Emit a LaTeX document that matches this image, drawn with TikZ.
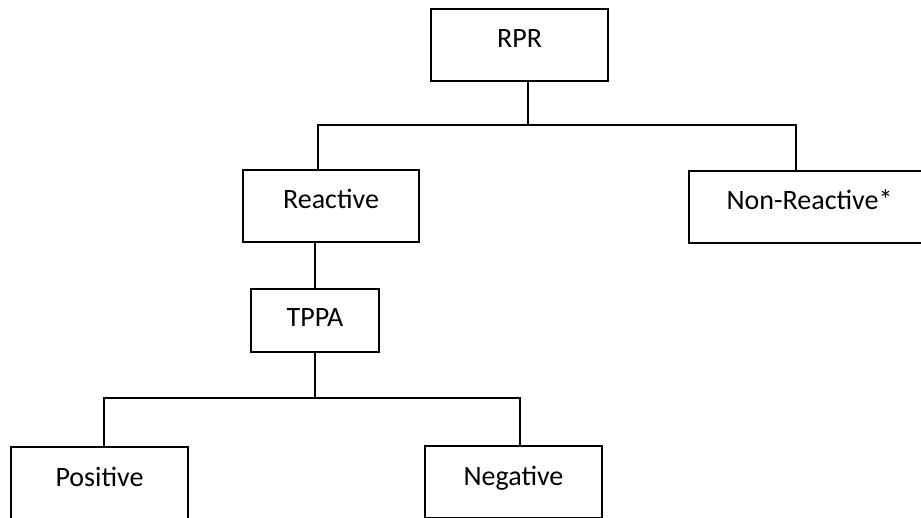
\documentclass[tikz,border=0pt]{standalone}
\usepackage{fontspec}
\setmainfont{Carlito}
\tikzset{box/.style={draw,inner sep=0pt,minimum width=177pt,text height=39pt,text depth=33pt,font=\fontsize{28}{34}\selectfont}}
\begin{document}
\begin{tikzpicture}[x=1pt,y=-1pt,line width=1.8pt]
\useasboundingbox (0,0) rectangle (921,518);
\clip (0,0) rectangle (921,518);
\node[box] (rpr) at (519.5,45) {RPR};
\node[box,minimum width=176pt] (reactive) at (331,206) {Reactive};
\node[box,minimum width=241pt] (nonreactive) at (809.5,207) {Non-Reactive*};
\node[box,minimum width=128pt,text height=38pt,text depth=25pt] (tppa) at (315,320.5) {TPPA};
\node[box] (positive) at (99.5,483) {Positive};
\node[box] (negative) at (513.5,482) {Negative};
% junctions
\coordinate (j1) at (528,125);
\coordinate (l1) at (318,125);
\coordinate (r1) at (796,125);
\coordinate (j2) at (315,398);
\coordinate (l2) at (104,398);
\coordinate (r2) at (520,398);
\draw (rpr.south -| j1)--(j1);
\draw (reactive.north -| l1)--(l1)--(r1)--(nonreactive.north -| r1);
\draw (reactive.south -| tppa.north)--(tppa.north);
\draw (tppa.south)--(j2);
\draw (positive.north -| l2)--(l2)--(r2)--(negative.north -| r2);
\end{tikzpicture}
\end{document}
